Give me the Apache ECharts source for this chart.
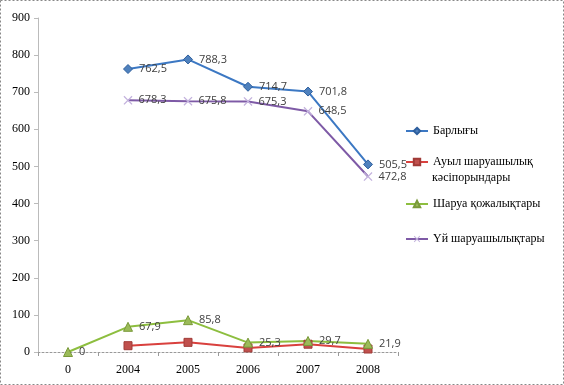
<!DOCTYPE html>
<html>
<head>
<meta charset="utf-8">
<script src="https://cdn.jsdelivr.net/npm/echarts@6/dist/echarts.min.js"></script>
<style>html,body{margin:0;padding:0;background:#fff;}#c{width:564px;height:385px;}</style>
</head>
<body>
<div id="c"></div>
<script>
var categories = ['0', '2004', '2005', '2006', '2007', '2008'];
var total = [null, 762.5, 788.3, 714.7, 701.8, 505.5];
var agri = [null, 17, 26, 11, 21, 8];
var farm = [0, 67.9, 85.8, 25.3, 29.7, 21.9];
var household = [null, 678.3, 675.8, 675.3, 648.5, 472.8];
var names = ['Барлығы', 'Ауыл шаруашылық кәсіпорындары', 'Шаруа қожалықтары', 'Үй шаруашылықтары'];

var chart = echarts.init(document.getElementById('c'));
var serif = '"Liberation Serif", "DejaVu Serif", serif';
var sans = '"Open Sans", "Liberation Sans", sans-serif';
function fmt(p) { return p.value == null ? '' : String(p.value).replace('.', ','); }
var lbl = { show: true, position: 'right', distance: 6, formatter: fmt, fontFamily: sans, fontSize: 11, color: '#404040' };
var xPath = 'path://M0,1L1,0L5,4L9,0L10,1L6,5L10,9L9,10L5,6L1,10L0,9L4,5Z';

function legend(name, top, fmtr) {
  return {
    data: [name], left: 405, top: top, orient: 'vertical', padding: 0,
    itemWidth: 22, itemHeight: 8, itemGap: 0,
    textStyle: { fontFamily: serif, fontSize: 12, color: '#000' },
    formatter: fmtr || function (n) { return n; }
  };
}

chart.setOption({
  animation: false,
  backgroundColor: '#fff',
  grid: { left: 38, right: 166, top: 18, bottom: 33 },
  legend: [
    legend(names[0], 125),
    legend(names[1], 156, function () { return 'Ауыл шаруашылық'; }),
    legend(names[2], 198),
    legend(names[3], 233)
  ],
  graphic: [
    { type: 'rect', shape: { x: 0.5, y: 0.5, width: 563, height: 384 }, style: { fill: 'none', stroke: '#888', lineDash: [2, 2], lineWidth: 1 }, silent: true },
    { type: 'text', left: 432, top: 172, style: { text: 'кәсіпорындары', font: '12px ' + serif, fill: '#000' } }
  ],
  xAxis: {
    type: 'category', data: categories, boundaryGap: true,
    axisLine: { lineStyle: { color: '#999', type: [2, 2] } },
    axisTick: { show: true, alignWithLabel: false, length: 4, lineStyle: { color: '#999' } },
    axisLabel: { fontFamily: serif, fontSize: 12, color: '#000', margin: 12 },
    splitLine: { show: false }
  },
  yAxis: {
    type: 'value', min: 0, max: 900, interval: 100,
    axisLine: { show: true, lineStyle: { color: '#bbb' } },
    axisTick: { show: true, length: 4, lineStyle: { color: '#bbb' } },
    axisLabel: { fontFamily: serif, fontSize: 12, color: '#000', margin: 8 },
    splitLine: { show: false }
  },
  series: [
    { name: names[0], type: 'line', data: total, connectNulls: false, symbol: 'diamond', symbolSize: 9,
      lineStyle: { color: '#3C78C3', width: 2 }, itemStyle: { color: '#4F81BD', borderColor: '#2E5F9E', borderWidth: 1 }, label: lbl },
    { name: names[1], type: 'line', data: agri, symbol: 'rect', symbolSize: 8,
      lineStyle: { color: '#D9413E', width: 2 }, itemStyle: { color: '#C0504D', borderColor: '#A03A37', borderWidth: 1 }, label: { show: false } },
    { name: names[2], type: 'line', data: farm, symbol: 'triangle', symbolSize: 9,
      lineStyle: { color: '#8DBE3F', width: 2 }, itemStyle: { color: '#9BBB59', borderColor: '#7A9A3A', borderWidth: 1 }, label: lbl },
    { name: names[3], type: 'line', data: household, symbol: xPath, symbolSize: 9,
      lineStyle: { color: '#7E5AA6', width: 2 }, itemStyle: { color: '#C3B2DD' }, label: lbl }
  ]
});
</script>
</body>
</html>
